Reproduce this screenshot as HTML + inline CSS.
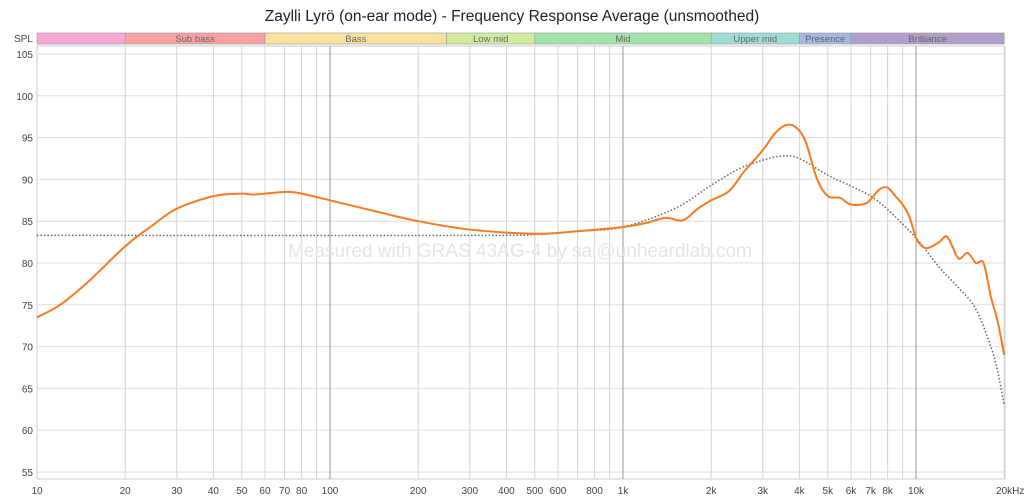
<!DOCTYPE html><html><head><meta charset="utf-8"><style>body{margin:0;background:#fff}svg{display:block;font-family:"Liberation Sans","DejaVu Sans",sans-serif}</style></head><body>
<svg id="s" width="1024" height="500" xmlns="http://www.w3.org/2000/svg">
<text x="512" y="21" font-size="15.5" text-anchor="middle" fill="#222">Zaylli Lyrö (on-ear mode) - Frequency Response Average (unsmoothed)</text>
<g id="g"></g>
<text x="520" y="257" font-size="19" text-anchor="middle" fill="#e4e4e4">Measured with GRAS 43AG-4 by sai@unheardlab.com</text>
<path id="t" fill="none" stroke="#666" stroke-width="1.5" stroke-dasharray="1.5,2"/>
<path id="o" fill="none" stroke="#f97a1f" stroke-width="2"/>
</svg>
<script>
const X=f=>37+Math.log10(f/10)*293, Y=v=>54+(105-v)*8.36;
let h='';const ns=[];
h+='<rect x="37" y="46" width="968" height="433" fill="none" stroke="#ccc"/>';
for(let v=55;v<=105;v+=5){h+=`<line x1="37" x2="1005" y1="${Y(v)}" y2="${Y(v)}" stroke="#ddd"/><text x="33" y="${Y(v)+4}" font-size="10" text-anchor="end" fill="#444">${v}</text>`;}
for(let d of [10,100,1000,10000])for(let k=1;k<=9;k++){let f=d*k;if(f<=10||f>20000)continue;let dark=(k==1);h+=`<line x1="${X(f)}" x2="${X(f)}" y1="46" y2="479" stroke="${dark?'#999':'#d4d4d4'}"/>`;}
const L=[[10,'10'],[20,'20'],[30,'30'],[40,'40'],[50,'50'],[60,'60'],[70,'70'],[80,'80'],[100,'100'],[200,'200'],[300,'300'],[400,'400'],[500,'500'],[600,'600'],[800,'800'],[1000,'1k'],[2000,'2k'],[3000,'3k'],[4000,'4k'],[5000,'5k'],[6000,'6k'],[7000,'7k'],[8000,'8k'],[10000,'10k'],[20000,'20kHz']];
for(const [f,s] of L)h+=`<text x="${X(f)+(f==20000?6:0)}" y="494" font-size="10" text-anchor="middle" fill="#444">${s}</text>`;
h+='<text x="33" y="42" font-size="10" text-anchor="end" fill="#444">SPL</text>';
const B=[[10,20,'#f9a6d3',''],[20,60,'#f7a1a1','Sub bass'],[60,250,'#f7e0a0','Bass'],[250,500,'#d2ec9f','Low mid'],[500,2000,'#a2e3ab','Mid'],[2000,4000,'#9edcd6','Upper mid'],[4000,6000,'#a4b9e0','Presence'],[6000,20000,'#b19fcb','Brilliance']];
for(const [a,b,c,s] of B){h+=`<rect x="${X(a)}" y="33" width="${X(b)-X(a)}" height="11" fill="${c}" stroke="#999" stroke-width="0.6"/><text x="${(X(a)+X(b))/2}" y="42" font-size="9.5" text-anchor="middle" fill="#666">${s}</text>`;}
document.getElementById('g').innerHTML=h;
function P(a){let p=a.map(([f,v])=>[X(f),Y(v)]);let d=`M${p[0][0]},${p[0][1]}`;for(let i=0;i<p.length-1;i++){let p0=p[i-1]||p[i],p1=p[i],p2=p[i+1],p3=p[i+2]||p2;d+=`C${p1[0]+(p2[0]-p0[0])/6},${p1[1]+(p2[1]-p0[1])/6} ${p2[0]-(p3[0]-p1[0])/6},${p2[1]-(p3[1]-p1[1])/6} ${p2[0]},${p2[1]}`;}return d;}
const O=[[10,73.5],[12,75],[15,77.8],[20,82],[25,84.6],[30,86.5],[40,88],[50,88.3],[55,88.2],[70,88.5],[80,88.3],[100,87.5],[150,86],[200,85],[300,84],[500,83.5],[700,83.8],[1000,84.3],[1200,84.8],[1400,85.4],[1600,85.1],[1800,86.5],[2000,87.5],[2300,88.6],[2600,91],[3000,93.5],[3300,95.5],[3600,96.5],[3900,96.2],[4200,94.5],[4600,90],[5000,88],[5500,87.8],[6000,87],[6800,87.2],[7500,88.8],[8000,89],[8500,88],[9000,87],[9500,85.5],[10000,83],[10500,82],[11000,81.8],[12000,82.5],[12700,83.2],[13300,82],[14000,80.5],[15000,81.2],[16000,80],[17000,80],[18000,76],[19000,73],[20000,69]];
const T=[[10,83.3],[300,83.3],[500,83.4],[700,83.8],[1000,84.3],[1500,86.5],[2000,89.3],[2500,91.3],[3000,92.3],[3500,92.8],[4000,92.5],[5000,90.5],[6000,89.2],[7000,88],[8000,86.4],[10000,83],[12000,79.5],[14000,77],[16000,74.5],[18000,70],[19000,67],[20000,63]];
document.getElementById('o').setAttribute('d',P(O));document.getElementById('t').setAttribute('d',P(T));
</script></body></html>
